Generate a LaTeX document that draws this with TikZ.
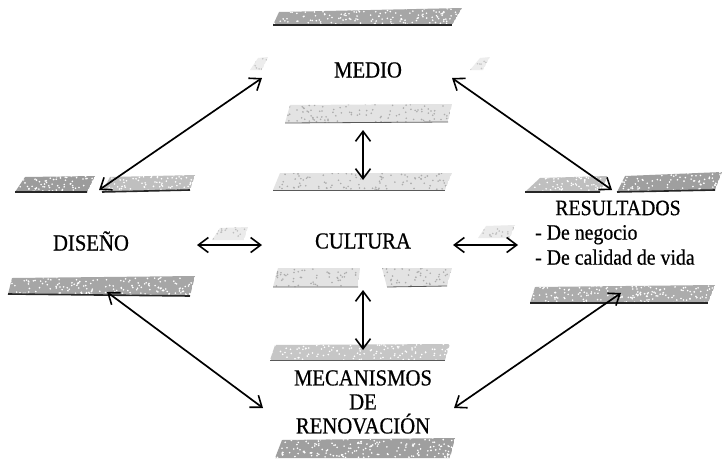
\documentclass[tikz,border=0pt]{standalone}
\usepackage{fontspec}
\setmainfont{Liberation Serif}
\newfontfamily\heavyserif[FakeBold=0.6,FakeStretch=0.9]{Liberation Serif}
\usetikzlibrary{arrows.meta}
% a band of the scroll: #1 x-min, #2 x-max, #3 y-min, #4 y-max,
% #5 outline, #6 fill, #7 speckle colour, #8 number of speckles
\newcommand\scrollband[8]{%
  \begin{scope}
    \clip #5;
    \fill[#6] #5;
    \foreach \k in {1,...,#8}{%
      \fill[#7] ({#1+rnd*(#2-#1)},{#3+rnd*(#4-#3)}) circle (0.9);
    }
  \end{scope}}
\begin{document}
\begin{tikzpicture}[x=1pt,y=-1pt,
  label/.style={font=\heavyserif\fontsize{23}{24}\selectfont, inner sep=0pt, align=center},
  sublabel/.style={font=\heavyserif\fontsize{22}{25}\selectfont, inner sep=0pt, align=left},
  edge/.style={draw=black!85, line width=1.6pt},
  softedge/.style={draw=black!65, line width=0.8pt},
  link/.style={draw=black, line width=1.7pt,
    {Straight Barb[length=10pt,width=15pt,line width=1.6pt]}-{Straight Barb[length=10pt,width=15pt,line width=1.6pt]}}
]
\pgfmathsetseed{4711}
\useasboundingbox (0,0) rectangle (722,458);
\fill[white] (0,0) rectangle (722,458);

% ---- scroll bands above and below each box ----
% MEDIO
\scrollband{273}{462}{8}{25}{(279,12) -- (462,8) -- (452,25) -- (273,25) -- cycle}{gray!70}{white}{160}
\draw[edge] (273,25) -- (452,25);
\scrollband{285}{452}{104}{123}{(290,105) -- (452,104) -- (448,122) -- (285,123) -- cycle}{gray!22}{gray!65}{100}
\draw[softedge] (285,123) -- (448,122);
% CULTURA
\scrollband{273}{452}{173}{190}{(280,173) -- (452,173) -- (445,190) -- (273,190) -- cycle}{gray!22}{gray!65}{100}
\draw[softedge] (273,190) -- (445,190);
\scrollband{273}{360}{268}{287}{(278,268) -- (360,268) -- (358,287) -- (273,287) -- cycle}{gray!22}{gray!65}{55}
\scrollband{382}{452}{268}{287}{(382,268) -- (452,268) -- (447,286) -- (387,287) -- cycle}{gray!22}{gray!65}{45}
\draw[softedge] (273,287) -- (358,287) (387,287) -- (447,286);
% DISEÑO
\scrollband{15}{95}{176}{192}{(25,177) -- (95,176) -- (87,192) -- (15,192) -- cycle}{gray!78}{white}{70}
\scrollband{102}{195}{175}{192}{(110,177) -- (195,175) -- (190,190) -- (102,192) -- cycle}{gray!50}{white}{80}
\draw[edge] (15,192) -- (87,192) (102,192) -- (190,190);
\scrollband{8}{195}{276}{296}{(12,278) -- (195,276) -- (190,296) -- (8,294) -- cycle}{gray!70}{white}{170}
\draw[edge] (8,294) -- (190,296);
% RESULTADOS
\scrollband{525}{608}{176}{192}{(540,178) -- (608,176) -- (600,192) -- (525,192) -- cycle}{gray!50}{white}{70}
\scrollband{617}{722}{172}{192}{(625,176) -- (722,172) -- (715,190) -- (617,192) -- cycle}{gray!75}{white}{90}
\draw[edge] (525,192) -- (600,192) (617,192) -- (715,190);
\scrollband{530}{715}{285}{303}{(535,287) -- (715,285) -- (708,303) -- (530,303) -- cycle}{gray!65}{white}{170}
\draw[edge] (530,303) -- (708,303);
% MECANISMOS DE RENOVACIÓN
\scrollband{270}{450}{344}{360}{(275,345) -- (450,344) -- (445,360) -- (270,360) -- cycle}{gray!45}{white}{120}
\draw[softedge] (270,360) -- (445,360);
\scrollband{275}{455}{438}{458}{(282,440) -- (455,438) -- (450,458) -- (275,458) -- cycle}{gray!75}{white}{170}
% faint corner marks
\scrollband{250}{268}{57}{70}{(250,70) -- (258,58) -- (268,57) -- (262,70) -- cycle}{gray!14}{gray!45}{10}
\scrollband{470}{490}{57}{70}{(470,70) -- (480,58) -- (490,57) -- (483,70) -- cycle}{gray!14}{gray!45}{10}
\scrollband{212}{248}{227}{240}{(212,240) -- (220,228) -- (248,227) -- (244,240) -- cycle}{gray!16}{gray!50}{18}
\scrollband{478}{515}{225}{238}{(478,238) -- (486,226) -- (515,225) -- (510,238) -- cycle}{gray!16}{gray!50}{18}

% ---- labels ----
\node[label] (medio) at (368,70) {MEDIO};
\node[label] (cultura) at (363,241) {CULTURA};
\node[label] (diseno) at (91,241) {DISEÑO};
\node[label, font=\heavyserif\fontsize{22}{25}\selectfont] (result) at (618,208) {RESULTADOS};
\node[sublabel, anchor=west] (items) at (535,245) {- De negocio\\- De calidad de vida};
\node[label] (mecan) at (363,402) {MECANISMOS\\DE\\RENOVACIÓN};

% ---- connector end points ----
\coordinate (dTop) at (99,190);
\coordinate (dRight) at (197,245);
\coordinate (dBot) at (107,292);
\coordinate (mLeft) at (262,78);
\coordinate (mRight) at (452,78);
\coordinate (mBot) at (363,130);
\coordinate (cTop) at (363,180);
\coordinate (cLeft) at (262,245);
\coordinate (cRight) at (453,245);
\coordinate (cBot) at (363,290);
\coordinate (rTop) at (612,190);
\coordinate (rLeft) at (518,245);
\coordinate (rBot) at (621,293);
\coordinate (kTop) at (363,350);
\coordinate (kLeft) at (263,408);
\coordinate (kRight) at (454,408);

% ---- connectors ----
\draw[link] (dTop) -- (mLeft);
\draw[link] (mRight) -- (rTop);
\draw[link] (mBot) -- (cTop);
\draw[link] (dRight) -- (cLeft);
\draw[link] (cRight) -- (rLeft);
\draw[link] (cBot) -- (kTop);
\draw[link] (dBot) -- (kLeft);
\draw[link] (rBot) -- (kRight);
\end{tikzpicture}
\end{document}
